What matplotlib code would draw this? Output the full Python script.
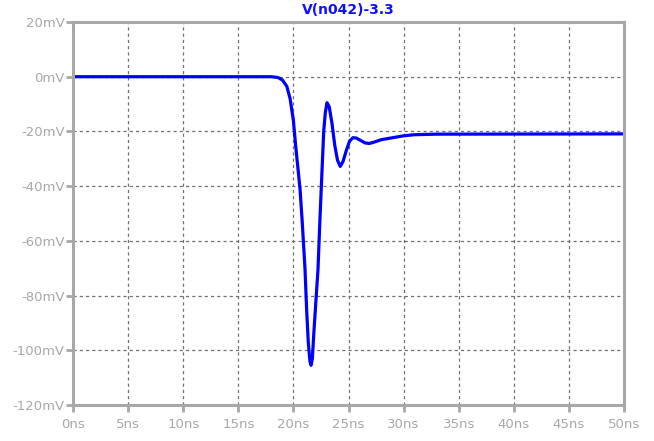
import numpy as np
import matplotlib
matplotlib.use("Agg")
import matplotlib.pyplot as plt
from matplotlib.ticker import FuncFormatter

# waveform (time in ns, voltage in mV)
t_ns = [0, 18.0, 18.6, 19.0, 19.4, 19.7, 20.0, 20.2, 20.4, 20.6, 20.8, 21.05,
        21.2, 21.35, 21.5, 21.6, 21.72, 21.85, 22.05, 22.23, 22.41, 22.6,
        22.75, 22.9, 23.05, 23.25, 23.5, 23.75, 24.0, 24.25, 24.5, 24.8,
        25.1, 25.4, 25.7, 26.1, 26.5, 26.9, 27.4, 28.0, 29.0, 30.0, 31.0,
        33.0, 50.0]
v_mv = [0, 0, -0.3, -1.2, -3.5, -8, -16, -25, -33, -41, -53, -70,
        -85, -97, -104, -105.5, -103, -94, -81.5, -70.6, -52, -34,
        -20, -13, -9.5, -11, -17, -25, -30.5, -32.8, -31, -27,
        -23.5, -22.3, -22.4, -23.3, -24.2, -24.4, -23.8, -23, -22.3, -21.6, -21.2,
        -21.0, -20.9]

x_ticks = list(range(0, 51, 5))
y_ticks = list(range(-120, 21, 20))
title = "V(n042)-3.3"

fig = plt.figure(figsize=(6.54, 4.41), dpi=100)
ax = fig.add_axes([73 / 654, 1 - 405 / 441, (624 - 73) / 654, (405 - 22) / 441])

ax.plot(t_ns, v_mv, color="#0000ff", lw=2.3, solid_joinstyle="round")

ax.set_xlim(0, 50)
ax.set_ylim(-120, 20)
ax.set_xticks(x_ticks)
ax.set_yticks(y_ticks)
ax.xaxis.set_major_formatter(FuncFormatter(lambda v, p: f"{v:.0f}ns"))
ax.yaxis.set_major_formatter(FuncFormatter(lambda v, p: f"{v:.0f}mV"))

grey = "#a8a8a8"
ax.grid(True, color="#707070", lw=0.9, linestyle=(0, (2.5, 2.5)))
for s in ax.spines.values():
    s.set_color(grey)
    s.set_linewidth(2.2)
ax.tick_params(colors=grey, labelcolor=grey, length=5, width=2, pad=1,
               labelsize=9.5)
ax.tick_params(axis="x", pad=4)

ax.set_title(title, color="#1010ff", fontsize=10, fontweight="bold", pad=6)

fig.savefig("out.png", dpi=100)
